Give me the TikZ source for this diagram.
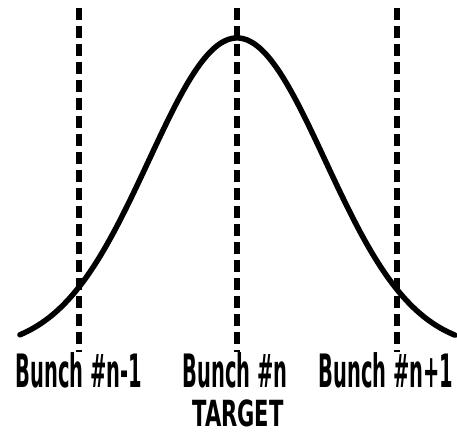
\documentclass[tikz,border=0pt]{standalone}
\usepackage{fontspec}
\setmainfont{DejaVu Sans Condensed}
\usetikzlibrary{positioning}

\begin{document}
\begin{tikzpicture}[
    x=1pt, y=1pt,
    bunchline/.style={line width=5.5pt, dash pattern=on 12pt off 6pt},
    curve/.style={line width=5.5pt, line cap=round},
    lbl/.style={font=\bfseries\fontsize{46}{50}\selectfont, inner sep=0pt,
                anchor=base, xscale=0.47, transform shape},
    tlbl/.style={font=\bfseries\fontsize{36}{40}\selectfont, inner sep=0pt,
                anchor=base, xscale=0.65, transform shape}
  ]
    \useasboundingbox (0,0) rectangle (457,435);
    % bunch positions
    \coordinate (prevtop) at (79,427);
    \coordinate (prevbot) at (79,83);
    \coordinate (curtop) at (237,427);
    \coordinate (curbot) at (237,83);
    \coordinate (nexttop) at (397,427);
    \coordinate (nextbot) at (397,83);

    % beam profile
    \draw[curve] plot[domain=20:455, samples=120, smooth]
      (\x, {85+312*exp(-(((\x-237)/100)^2)/1.56)});

    \draw[bunchline] (prevtop) -- (prevbot);
    \draw[bunchline] (curtop) -- (curbot);
    \draw[bunchline] (nexttop) -- (nextbot);

    \node[lbl] (prev) at (79,47) {Bunch \#n-1};
    \node[lbl] (cur) at (235,47) {Bunch \#n};
    \node[lbl] (next) at (386,47) {Bunch \#n+1};
    \node[tlbl] (target) at (238,8) {TARGET};
  \end{tikzpicture}
\end{document}
